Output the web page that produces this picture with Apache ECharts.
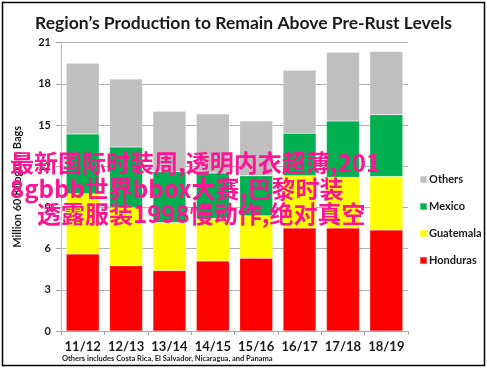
<!DOCTYPE html>
<html><head><meta charset="utf-8">
<script src="https://cdn.jsdelivr.net/npm/echarts@6/dist/echarts.min.js"></script>
<style>html,body{margin:0;padding:0;background:#fff}#c{width:487px;height:369px}</style>
</head><body><div id="c"></div>
<script>
const categories = ['11/12','12/13','13/14','14/15','15/16','16/17','17/18','18/19'];
const honduras  = [5.6, 4.75, 4.4, 5.1, 5.3, 7.5, 7.5, 7.35];
const guatemala = [4.4, 4.25, 3.5, 3.1, 3.1, 3.8, 3.7, 3.9];
const mexico    = [4.35, 4.4, 3.7, 3.3, 2.9, 3.1, 4.1, 4.5];
const others    = [5.15, 4.95, 4.4, 4.3, 4.0, 4.6, 5.0, 4.6];
const yTicks = [0, 3, 6, 9, 12, 15, 18, 21];
const overlayLines = ['最新国际时装周,透明内衣超薄,201', '8gbbb世界bbox大赛,巴黎时装', '透露服装1998慢动作,绝对真空'];

const chart = echarts.init(document.getElementById('c'));
const F = 'Lato, "Liberation Sans", sans-serif';
function bar(name, data, color){
  return {name, type:'bar', stack:'t', data, barWidth:'76%',
    itemStyle:{color, borderColor:'rgba(255,255,255,0.35)', borderWidth:0.5}};
}
const OF = 'bold 24px "Noto Sans CJK SC"';
chart.setOption({
  animation:false,
  title:{text:'Region\u2019s Production to Remain Above Pre-Rust Levels', left:'center', top:9,
    textStyle:{fontFamily:F, fontSize:17.5, fontWeight:'bold', color:'#1a1a1a'}},
  grid:{left:61, right:79, top:42.7, bottom:38},
  legend:{orient:'vertical', left:414, top:169, itemWidth:7, itemHeight:7, itemGap:16,
    icon:'rect', data:['Others','Mexico','Guatemala','Honduras'],
    textStyle:{fontFamily:F, fontSize:11, fontWeight:'bold', color:'#1a1a1a', padding:[0,0,0,-3]}},
  xAxis:{type:'category', data:categories,
    axisLine:{lineStyle:{color:'#a6a6a6'}},
    axisTick:{show:true, length:4, lineStyle:{color:'#a6a6a6'}},
    axisLabel:{interval:0, fontFamily:F, fontSize:13, fontWeight:'bold', color:'#1a1a1a', margin:9}},
  yAxis:{type:'value', min:yTicks[0], max:yTicks[yTicks.length-1], interval:3,
    name:'Million 60 Kilogram Bags', nameLocation:'middle', nameGap:38,
    nameTextStyle:{fontFamily:F, fontSize:11, fontWeight:'bold', color:'#1a1a1a'},
    axisLine:{show:true, lineStyle:{color:'#bfbfbf'}},
    axisTick:{show:true, length:5, lineStyle:{color:'#a6a6a6'}},
    splitLine:{lineStyle:{color:'#b0b0b0'}},
    axisLabel:{fontFamily:F, fontSize:11, fontWeight:'bold', color:'#1a1a1a', margin:10}},
  series:[
    bar('Honduras', honduras, '#ff0000'),
    bar('Guatemala', guatemala, '#ffff00'),
    bar('Mexico', mexico, '#00b050'),
    bar('Others', others, '#bfbfbf')
  ],
  graphic:[
    {type:'rect', shape:{x:2.5,y:2.5,width:482,height:363}, style:{fill:'none', stroke:'#000', lineWidth:1.5}, z:100},
    {type:'text', left:62, top:355, style:{text:'Others includes Costa Rica, El Salvador, Nicaragua, and Panama', font:'bold 7.5px '+F, fill:'#1a1a1a'}},
    {type:'text', x:10, y:163, z:200, style:{text:overlayLines[0], font:OF, fill:'#ff1493', textVerticalAlign:'middle'}},
    {type:'text', x:10, y:189, z:200, style:{text:overlayLines[1], font:OF, fill:'#ff1493', textVerticalAlign:'middle'}},
    {type:'text', x:37, y:214, z:200, style:{text:overlayLines[2], font:OF, fill:'#ff1493', textVerticalAlign:'middle'}}
  ]
});
</script></body></html>
